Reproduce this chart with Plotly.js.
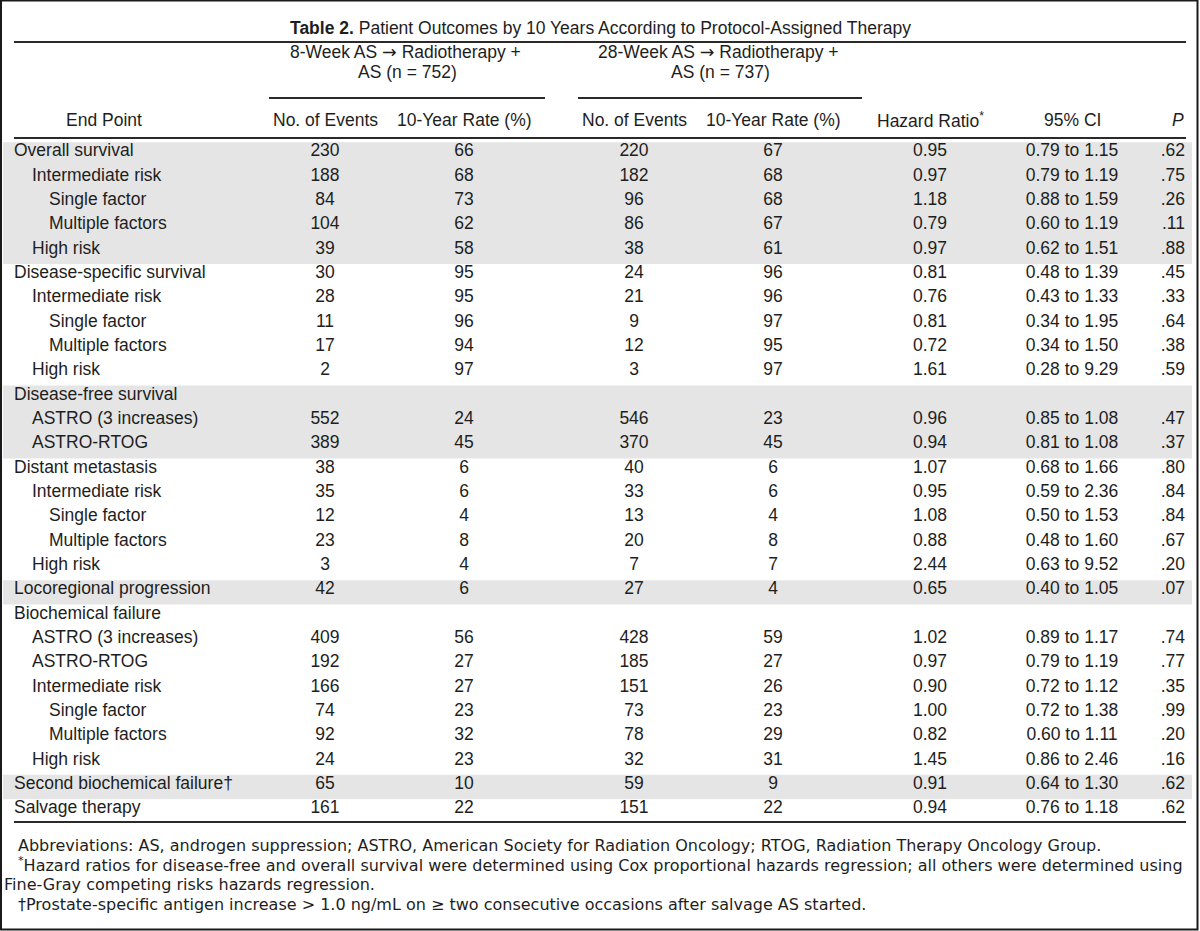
<!DOCTYPE html>
<html>
<head>
<meta charset="utf-8">
<script src="https://cdn.plot.ly/plotly-3.0.1.min.js"></script>
<style>html,body{margin:0;padding:0;background:#fff;}#chart{width:1200px;height:931px;}</style>
</head>
<body>
<div id="chart"></div>
<script>
// ---------- DATA ----------
const endPoints = ["Overall survival","Intermediate risk","Single factor","Multiple factors","High risk",
  "Disease-specific survival","Intermediate risk","Single factor","Multiple factors","High risk",
  "Disease-free survival","ASTRO (3 increases)","ASTRO-RTOG",
  "Distant metastasis","Intermediate risk","Single factor","Multiple factors","High risk",
  "Locoregional progression",
  "Biochemical failure","ASTRO (3 increases)","ASTRO-RTOG","Intermediate risk","Single factor","Multiple factors","High risk",
  "Second biochemical failure†","Salvage therapy"];
const indentLevel = [0,1,2,2,1, 0,1,2,2,1, 0,1,1, 0,1,2,2,1, 0, 0,1,1,1,2,2,1, 0,0];
const events8 = [230,188,84,104,39, 30,28,11,17,2, null,552,389, 38,35,12,23,3, 42, null,409,192,166,74,92,24, 65,161];
const rate8   = [66,68,73,62,58, 95,95,96,94,97, null,24,45, 6,6,4,8,4, 6, null,56,27,27,23,32,23, 10,22];
const events28= [220,182,96,86,38, 24,21,9,12,3, null,546,370, 40,33,13,20,7, 27, null,428,185,151,73,78,32, 59,151];
const rate28  = [67,68,68,67,61, 96,96,97,95,97, null,23,45, 6,6,4,8,7, 4, null,59,27,26,23,29,31, 9,22];
const hazardRatio = [0.95,0.97,1.18,0.79,0.97, 0.81,0.76,0.81,0.72,1.61, null,0.96,0.94, 1.07,0.95,1.08,0.88,2.44, 0.65, null,1.02,0.97,0.90,1.00,0.82,1.45, 0.91,0.94];
const ciLow  = [0.79,0.79,0.88,0.60,0.62, 0.48,0.43,0.34,0.34,0.28, null,0.85,0.81, 0.68,0.59,0.50,0.48,0.63, 0.40, null,0.89,0.79,0.72,0.72,0.60,0.86, 0.64,0.76];
const ciHigh = [1.15,1.19,1.59,1.19,1.51, 1.39,1.33,1.95,1.50,9.29, null,1.08,1.08, 1.66,2.36,1.53,1.60,9.52, 1.05, null,1.17,1.19,1.12,1.38,1.11,2.46, 1.30,1.18];
const pValues = [".62",".75",".26",".11",".88", ".45",".33",".64",".38",".59", null,".47",".37", ".80",".84",".84",".67",".20", ".07", null,".74",".77",".35",".99",".20",".16", ".62",".62"];
const shadedGroups = [[0,4],[10,12],[18,18],[26,26]];

const ARROW = '<span style="font-family:DejaVu Sans;">→</span>';
const titleText = "<b>Table 2.</b> Patient Outcomes by 10 Years According to Protocol-Assigned Therapy";
const group1 = ["8-Week AS " + ARROW + " Radiotherapy +", "AS (n = 752)"];
const group2 = ["28-Week AS " + ARROW + " Radiotherapy +", "AS (n = 737)"];
const colHeaders = ["End Point","No. of Events","10-Year Rate (%)","No. of Events","10-Year Rate (%)","Hazard Ratio<sup>*</sup>","95% CI","<i>P</i>"];
const footnotes = [
  "Abbreviations: AS, androgen suppression; ASTRO, American Society for Radiation Oncology; RTOG, Radiation Therapy Oncology Group.",
  "<sup>*</sup>Hazard ratios for disease-free and overall survival were determined using Cox proportional hazards regression; all others were determined using",
  "Fine-Gray competing risks hazards regression.",
  "†Prostate-specific antigen increase > 1.0 ng/mL on ≥ two consecutive occasions after salvage AS started."
];

// ---------- LAYOUT CONSTANTS ----------
const W = 1200, H = 931;
const ROW0 = 152, ROWH = 24.33;
const FONT = "Liberation Sans, Arial, Helvetica, sans-serif";
const FOOT_FONT = "DejaVu Sans, sans-serif";
const FS = 17.5;
const TXT = "#1e1e1e";
const indentX = [14, 32, 49];
const colX = {ev8: 325, r8: 464, ev28: 634, r28: 773, hr: 930, ci: 1072, p: 1185};
const pxToRow = px => (px - ROW0) / ROWH;

function fmt(v, d) { return v === null ? null : (d ? v.toFixed(d) : String(v)); }

function col(xs, texts, pos) {
  const keep = texts.map((t, i) => i).filter(i => texts[i] !== null && texts[i] !== "");
  return {
    type: "scatter", mode: "text",
    x: keep.map(i => Array.isArray(xs) ? xs[i] : xs), y: keep, text: keep.map(i => texts[i]),
    textposition: pos || "middle center", cliponaxis: false, hoverinfo: "skip",
    textfont: {family: FONT, size: FS, color: TXT}, showlegend: false
  };
}

const traces = [
  col(indentLevel.map(l => indentX[l]), endPoints, "middle right"),
  col(colX.ev8, events8.map(v => fmt(v))),
  col(colX.r8, rate8.map(v => fmt(v))),
  col(colX.ev28, events28.map(v => fmt(v))),
  col(colX.r28, rate28.map(v => fmt(v))),
  col(colX.hr, hazardRatio.map(v => fmt(v, 2))),
  col(colX.ci, ciLow.map((v, i) => v === null ? null : v.toFixed(2) + " to " + ciHigh[i].toFixed(2))),
  col(colX.p, pValues, "middle left")
];

const shapes = [];
shadedGroups.forEach(g => shapes.push({type: "rect", xref: "x", yref: "y", x0: 3, x1: 1192,
  y0: g[0] - 0.4, y1: g[1] + 0.6, fillcolor: "#e5e5e5", line: {width: 0}, layer: "below"}));
const hline = (y, x0, x1, w) => ({type: "line", xref: "x", yref: "y", x0: x0, x1: x1,
  y0: pxToRow(y), y1: pxToRow(y), line: {color: "#2a2a2a", width: w}});
shapes.push(hline(42, 14, 1186, 2.2));
shapes.push(hline(98, 269, 545, 1.8));
shapes.push(hline(98, 578, 862, 1.8));
shapes.push(hline(138, 14, 1186, 2.2));
shapes.push(hline(822, 14, 1186, 2.2));
shapes.push({type: "rect", xref: "paper", yref: "paper", x0: 1/W, x1: 1 - 2.5/W, y0: 1.5/H, y1: 1 - 0.5/H,
  line: {color: "#1a1a1a", width: 2}, fillcolor: "rgba(0,0,0,0)"});

const ann = (text, x, ypx, anchor, font) => ({text: text, x: x, y: pxToRow(ypx), xref: "x", yref: "y",
  xanchor: anchor || "center", yanchor: "middle", showarrow: false, borderpad: 0,
  font: font || {family: FONT, size: FS, color: TXT}});
const annotations = [
  ann(titleText, 600, 28),
  ann(group1[0], 405, 52), ann(group1[1], 407, 72),
  ann(group2[0], 718, 52), ann(group2[1], 720, 72),
  ann(colHeaders[0], 104, 120),
  ann(colHeaders[1], colX.ev8, 120), ann(colHeaders[2], colX.r8, 120),
  ann(colHeaders[3], colX.ev28, 120), ann(colHeaders[4], colX.r28, 120),
  ann(colHeaders[5], colX.hr, 120), ann(colHeaders[6], colX.ci, 120),
  ann(colHeaders[7], colX.p, 120, "right")
];
const fnFont = {family: FOOT_FONT, size: 16, color: TXT};
annotations.push(ann(footnotes[0], 17, 845, "left", fnFont));
annotations.push(ann(footnotes[1], 17, 864.5, "left", fnFont));
annotations.push(ann(footnotes[2], 3, 884.5, "left", fnFont));
annotations.push(ann(footnotes[3], 17, 904.5, "left", fnFont));

const layout = {
  width: W, height: H, margin: {l: 0, r: 0, t: 0, b: 0, pad: 0},
  paper_bgcolor: "#fff", plot_bgcolor: "#fff",
  xaxis: {range: [0, W], visible: false, fixedrange: true},
  yaxis: {range: [pxToRow(H), pxToRow(0)], visible: false, fixedrange: true},
  shapes: shapes, annotations: annotations, showlegend: false,
  font: {family: FONT, size: FS, color: TXT}
};
Plotly.newPlot("chart", traces, layout, {staticPlot: true, displayModeBar: false});
</script>
</body>
</html>
